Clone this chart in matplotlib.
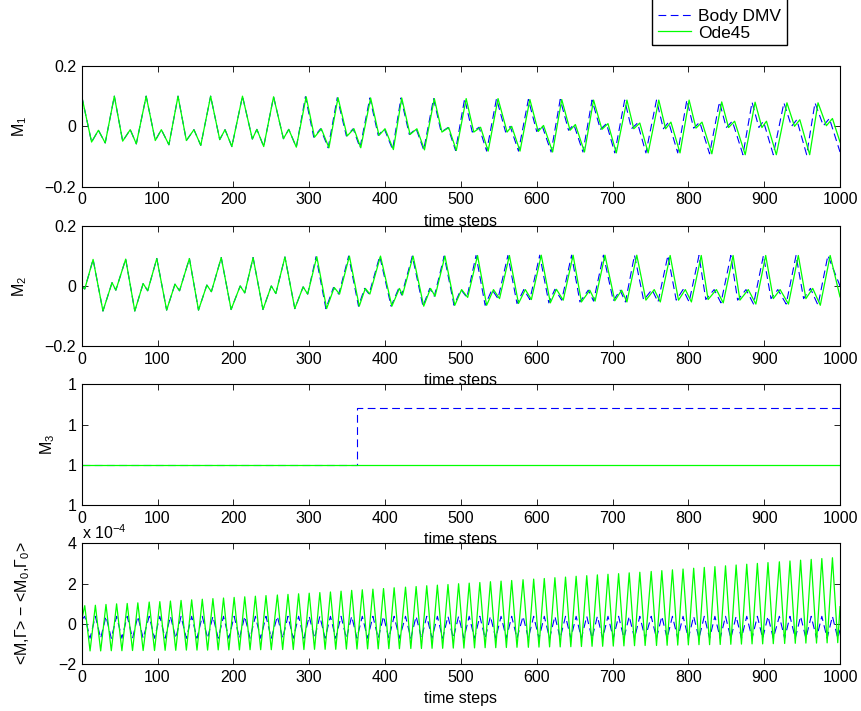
import numpy as np
import matplotlib
matplotlib.use('Agg')
import matplotlib.pyplot as plt
from matplotlib.patches import Rectangle
from matplotlib.ticker import FormatStrFormatter

plt.rcParams['font.family'] = ['Liberation Sans', 'DejaVu Sans']
plt.rcParams['mathtext.default'] = 'regular'
plt.rcParams['font.size'] = 11.5

BLUE = (0, 0, 1)
GREEN = (0, 1, 0)

XTICKS = [0, 100, 200, 300, 400, 500, 600, 700, 800, 900, 1000]

# ---- M1: local extrema (time step, value) ----
M1_ODE_T = [0, 13, 22, 31,
            43, 54, 64, 72,
            85, 97, 105, 115,
            127, 138, 148, 157,
            170, 182, 189, 198,
            212, 225, 231, 240,
            253, 266, 273, 283,
            296, 307, 316, 326,
            338, 350, 359, 368,
            381, 392, 400, 411,
            422, 433, 442, 452,
            465, 475, 484, 494,
            507, 517, 526, 536,
            549, 561, 567, 578,
            591, 602, 609, 621,
            633, 644, 651, 663,
            675, 686, 694, 705,
            719, 728, 736, 747,
            761, 770, 777, 789,
            801, 810, 818, 831,
            844, 853, 861, 875,
            888, 897, 903, 916,
            930, 940, 947, 960,
            971, 982, 990, 1000]
M1_ODE_V = [0.100, -0.052, -0.013, -0.055,
            0.100, -0.049, -0.011, -0.058,
            0.100, -0.047, -0.011, -0.061,
            0.100, -0.047, -0.011, -0.063,
            0.100, -0.044, -0.011, -0.067,
            0.100, -0.042, -0.010, -0.067,
            0.098, -0.041, -0.010, -0.069,
            0.098, -0.036, -0.008, -0.071,
            0.095, -0.032, -0.008, -0.071,
            0.094, -0.030, -0.008, -0.077,
            0.094, -0.027, -0.008, -0.078,
            0.092, -0.019, -0.004, -0.080,
            0.092, -0.019, -0.003, -0.082,
            0.092, -0.019, 0.000, -0.082,
            0.089, -0.017, 0.003, -0.085,
            0.089, -0.013, 0.006, -0.085,
            0.087, -0.010, 0.009, -0.088,
            0.087, -0.008, 0.011, -0.088,
            0.087, -0.008, 0.014, -0.088,
            0.087, -0.006, 0.014, -0.091,
            0.081, -0.004, 0.017, -0.094,
            0.080, -0.004, 0.017, -0.094,
            0.078, 0.000, 0.022, -0.094,
            0.078, 0.002, 0.026, -0.052]
# Body DMV drifts slightly ahead of Ode45 later on
M1_DMV_T = [0, 13, 22, 31,
            43, 54, 64, 72,
            85, 97, 105, 115,
            127, 138, 148, 157,
            170, 182, 189, 198,
            212, 225, 231, 240,
            253, 266, 273, 283,
            295, 306, 315, 325,
            337, 349, 358, 367,
            380, 391, 399, 410,
            421, 432, 441, 451,
            464, 474, 483, 493,
            505, 515, 524, 534,
            547, 559, 565, 576,
            589, 600, 607, 619,
            631, 642, 649, 661,
            673, 684, 692, 703,
            716, 725, 733, 744,
            758, 767, 774, 786,
            798, 807, 815, 828,
            841, 850, 858, 872,
            884, 893, 899, 912,
            926, 936, 943, 956,
            967, 978, 986, 1000]
M1_DMV_V = M1_ODE_V[:-1] + [-0.085]

# ---- M2 ----
M2_ODE_T = [0, 4,
            15, 28, 40, 45,
            58, 70, 81, 87,
            99, 112, 123, 129,
            142, 154, 165, 171,
            184, 197, 209, 215,
            226, 239, 250, 256,
            268, 281, 292, 298,
            310, 323, 333, 340,
            353, 366, 374, 380,
            394, 409, 419, 423,
            437, 451, 460, 466,
            479, 492, 501, 509,
            522, 534, 543, 551,
            564, 576, 585, 593,
            606, 618, 626, 635,
            648, 659, 670, 677,
            690, 703, 712, 719,
            732, 744, 755, 763,
            776, 787, 796, 804,
            817, 826, 837, 846,
            859, 868, 879, 889,
            902, 912, 921, 932,
            945, 955, 964, 974,
            987, 1000]
M2_ODE_V = [0.000, -0.010,
            0.088, -0.083, 0.011, -0.014,
            0.089, -0.083, 0.008, -0.016,
            0.091, -0.080, 0.006, -0.016,
            0.091, -0.080, 0.003, -0.019,
            0.094, -0.078, 0.000, -0.023,
            0.094, -0.078, 0.000, -0.025,
            0.096, -0.075, -0.003, -0.027,
            0.097, -0.075, -0.005, -0.027,
            0.099, -0.067, -0.008, -0.027,
            0.099, -0.067, -0.008, -0.030,
            0.099, -0.067, -0.008, -0.034,
            0.099, -0.064, -0.012, -0.038,
            0.101, -0.064, -0.012, -0.042,
            0.101, -0.058, -0.012, -0.045,
            0.102, -0.056, -0.011, -0.047,
            0.102, -0.053, -0.014, -0.050,
            0.102, -0.049, -0.014, -0.053,
            0.102, -0.047, -0.012, -0.053,
            0.101, -0.047, -0.012, -0.053,
            0.101, -0.045, -0.012, -0.056,
            0.101, -0.047, -0.012, -0.060,
            0.101, -0.042, -0.012, -0.060,
            0.101, -0.042, -0.008, -0.064,
            0.101, -0.036]
M2_DMV_T = [0, 4,
            15, 28, 40, 45,
            58, 70, 81, 87,
            99, 112, 123, 129,
            142, 154, 165, 171,
            184, 197, 209, 215,
            226, 239, 250, 256,
            268, 281, 292, 298,
            309, 322, 332, 339,
            352, 365, 373, 379,
            393, 408, 418, 422,
            436, 450, 459, 465,
            478, 491, 500, 508,
            520, 532, 541, 549,
            562, 574, 583, 591,
            604, 616, 624, 633,
            646, 657, 668, 675,
            688, 701, 710, 717,
            729, 741, 752, 760,
            773, 784, 793, 801,
            814, 823, 834, 843,
            856, 865, 876, 886,
            899, 909, 918, 929,
            942, 952, 961, 971,
            984, 1000]
M2_DMV_V = M2_ODE_V[:-1] + [0.0]

# ---- M3 (constant, Body DMV jumps once) ----
M3_ODE_T = [0, 1000]
M3_ODE_V = [1.0, 1.0]
M3_DMV_T = [0, 363, 363, 1000]
M3_DMV_V = [1.0, 1.0, 1.0000000000014, 1.0000000000014]
M3_TICKS = [0.999999999999, 1.0, 1.000000000001, 1.000000000002]

# ---- <M,G> - <M0,G0>, in units of 1e-4 ----
G4_PEAK_T = [4, 18, 32, 46, 60, 74, 89, 103, 117, 131,
             145, 159, 173, 187, 201, 215, 229, 243, 258, 272,
             286, 300, 314, 328, 342, 356, 370, 384, 398, 412,
             427, 441, 455, 469, 483, 497, 511, 525, 539, 553,
             567, 582, 596, 610, 624, 638, 652, 666, 680, 694,
             708, 722, 736, 751, 765, 779, 793, 807, 821, 835,
             849, 863, 877, 891, 905, 920, 934, 948, 962, 976,
             990]
G4_TROUGH_T = [11, 25, 39, 53, 67, 81, 96, 110, 124, 138,
               152, 166, 180, 194, 208, 222, 236, 250, 265, 279,
               293, 307, 321, 335, 349, 363, 377, 391, 405, 419,
               434, 448, 462, 476, 490, 504, 518, 532, 546, 560,
               574, 589, 603, 617, 631, 645, 659, 673, 687, 701,
               715, 729, 743, 758, 772, 786, 800, 814, 828, 842,
               856, 870, 884, 898, 912, 927, 941, 955, 969, 983,
               997]
ODE4_PEAK = [0.90, 0.92, 0.96, 0.99, 1.01, 1.04, 1.08, 1.10, 1.13, 1.16,
             1.19, 1.22, 1.25, 1.28, 1.31, 1.34, 1.37, 1.40, 1.43, 1.46,
             1.49, 1.52, 1.55, 1.58, 1.62, 1.66, 1.69, 1.72, 1.75, 1.79,
             1.82, 1.85, 1.89, 1.92, 1.95, 1.99, 2.02, 2.05, 2.09, 2.12,
             2.15, 2.19, 2.22, 2.25, 2.29, 2.32, 2.36, 2.39, 2.43, 2.46,
             2.49, 2.53, 2.56, 2.60, 2.64, 2.68, 2.72, 2.76, 2.80, 2.84,
             2.88, 2.92, 2.96, 3.00, 3.04, 3.08, 3.12, 3.16, 3.20, 3.24,
             3.28]
ODE4_TROUGH = [-1.35, -1.35, -1.34, -1.34, -1.33, -1.33, -1.33, -1.32, -1.32, -1.31,
               -1.31, -1.31, -1.30, -1.30, -1.30, -1.29, -1.29, -1.29, -1.28, -1.28,
               -1.28, -1.27, -1.27, -1.27, -1.26, -1.26, -1.25, -1.25, -1.24, -1.24,
               -1.23, -1.23, -1.22, -1.22, -1.21, -1.21, -1.20, -1.19, -1.19, -1.18,
               -1.17, -1.17, -1.16, -1.15, -1.15, -1.14, -1.13, -1.12, -1.12, -1.11,
               -1.10, -1.09, -1.08, -1.08, -1.07, -1.06, -1.05, -1.04, -1.04, -1.03,
               -1.02, -1.01, -1.00, -1.00, -0.99, -0.98, -0.97, -0.96, -0.96, -0.95,
               -0.94]
DMV4_PEAK = [0.37] * 71
DMV4_TROUGH = [-0.72] * 71
START4 = 0.2
END4_ODE = 0.85
END4_DMV = -0.3


def build_series(peak_t, trough_t, peaks, troughs, start, end):
    t = [0]
    v = [start]
    for pt, tt, p, q in zip(peak_t, trough_t, peaks, troughs):
        t += [pt, tt]
        v += [p, q]
    t.append(1000)
    v.append(end)
    return np.array(t), np.array(v)


ode4_t, ode4_v = build_series(G4_PEAK_T, G4_TROUGH_T, ODE4_PEAK, ODE4_TROUGH, START4, END4_ODE)
dmv4_t, dmv4_v = build_series(G4_PEAK_T, G4_TROUGH_T, DMV4_PEAK, DMV4_TROUGH, START4, END4_DMV)

# ---- figure ----
fig = plt.figure(figsize=(8.62, 7.11), dpi=100)
L, W, H = 0.0948, 0.8797, 0.1698
bottoms = [0.7374, 0.5129, 0.2897, 0.0661]
axes = [fig.add_axes([L, b, W, H]) for b in bottoms]

dash_kw = dict(color=BLUE, lw=0.8, ls='--', dashes=(7, 4))
solid_kw = dict(color=GREEN, lw=0.9)

ax1, ax2, ax3, ax4 = axes
ax1.plot(M1_DMV_T, M1_DMV_V, label='Body DMV', **dash_kw)
ax1.plot(M1_ODE_T, M1_ODE_V, label='Ode45', **solid_kw)
ax2.plot(M2_DMV_T, M2_DMV_V, **dash_kw)
ax2.plot(M2_ODE_T, M2_ODE_V, **solid_kw)
ax3.plot(M3_DMV_T, M3_DMV_V, **dash_kw)
ax3.plot(M3_ODE_T, M3_ODE_V, **solid_kw)
ax4.plot(dmv4_t, dmv4_v, **dash_kw)
ax4.plot(ode4_t, ode4_v, **solid_kw)

for ax in axes:
    ax.set_xlim(0, 1000)
    ax.set_xticks(XTICKS)
    ax.tick_params(direction='in', top=True, right=True, length=4.3,
                   width=0.6, pad=4)
    for s in ax.spines.values():
        s.set_linewidth(0.8)
    ax.set_xlabel('time steps', labelpad=4.5)

for ax in (ax1, ax2):
    ax.set_ylim(-0.2, 0.2)
    ax.set_yticks([-0.2, 0, 0.2])
    ax.set_yticklabels(['\u22120.2', '0', '0.2'])

ax3.set_ylim(M3_TICKS[0], M3_TICKS[-1])
ax3.set_yticks(M3_TICKS)
ax3.yaxis.set_major_formatter(FormatStrFormatter('%g'))

ax4.set_ylim(-2, 4)
ax4.set_yticks([-2, 0, 2, 4])
ax4.set_yticklabels(['\u22122', '0', '2', '4'])
ax4.text(0, 1.01, 'x 10$^{\u22124}$', transform=ax4.transAxes,
         ha='left', va='bottom')

ax1.set_ylabel('M$_1$')
ax2.set_ylabel('M$_2$')
ax3.set_ylabel('M$_3$')
ax4.set_ylabel('<M,\u0393> \u2212 <M$_0$,\u0393$_0$>')
ax1.yaxis.set_label_coords(-0.07, 0.5)
ax2.yaxis.set_label_coords(-0.07, 0.5)
ax3.yaxis.set_label_coords(-0.033, 0.5)
ax4.yaxis.set_label_coords(-0.066, 0.5)

# legend: box runs off the top of the figure in the original
h, l = ax1.get_legend_handles_labels()
fig.legend(h, l, loc='lower left', bbox_to_anchor=(655 / 862, 1 - 44 / 711),
           borderaxespad=0, frameon=False, fontsize=12.5,
           handlelength=1.85, handletextpad=0.45, labelspacing=0.1,
           borderpad=0.2)
fig.patches.append(Rectangle((652 / 862, 1 - 45 / 711), 135 / 862, 60 / 711,
                             transform=fig.transFigure, fill=False,
                             edgecolor='black', lw=1.0))

fig.savefig('out.png', dpi=100)
